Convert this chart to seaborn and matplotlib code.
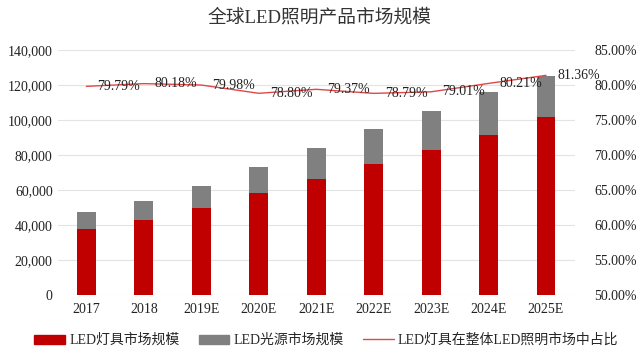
import numpy as np
import pandas as pd
import matplotlib
matplotlib.use('Agg')
import matplotlib.pyplot as plt
import seaborn as sns
from matplotlib.ticker import FuncFormatter
from matplotlib.patches import Patch
from matplotlib.lines import Line2D

years = ['2017', '2018', '2019E', '2020E', '2021E', '2022E', '2023E', '2024E', '2025E']
total_market = [47400, 53700, 62300, 73100, 84000, 94600, 105100, 116000, 125100]
fixture_market = [37800, 43050, 49800, 58450, 66200, 75100, 82800, 91650, 101800]
fixture_share = [79.79, 80.18, 79.98, 78.80, 79.37, 78.79, 79.01, 80.21, 81.36]

RED = '#C00000'
GREY = '#808080'
LINE_RED = '#E04848'

sns.set_theme(style='white')
plt.rcParams['font.family'] = ['Liberation Serif', 'Noto Sans CJK SC']

df = pd.DataFrame({'year': years, 'total': total_market,
                   'fixture': fixture_market, 'share': fixture_share})
df['pos'] = df.index

fig = plt.figure(figsize=(6.4, 3.56), dpi=100)
ax = fig.add_axes([0.09, 0.171, 0.808, 0.689])

# grey = total, red on top of it covers the fixture part
sns.barplot(data=df, x='year', y='total', color=GREY, width=0.33,
            saturation=1, linewidth=0, ax=ax)
sns.barplot(data=df, x='year', y='fixture', color=RED, width=0.33,
            saturation=1, linewidth=0, ax=ax)
ax.set_ylim(0, 140000)
ax.set_yticks(np.arange(0, 140001, 20000))
ax.yaxis.set_major_formatter(FuncFormatter(lambda v, p: f'{int(v):,}'))
ax.set_xlabel('')
ax.set_ylabel('')
ax.grid(axis='y', color='#E3E3E3', lw=0.8)
ax.set_axisbelow(True)
for s in ax.spines.values():
    s.set_visible(False)
ax.tick_params(axis='both', length=0, labelsize=10, colors='#222222')
ax.tick_params(axis='x', pad=6)
ax.set_xlim(-0.5, len(years) - 0.5)

ax2 = ax.twinx()
sns.lineplot(data=df, x='pos', y='share', color=LINE_RED, lw=1, ax=ax2)
ax2.set_ylim(50, 85)
ax2.set_yticks(np.arange(50, 85.01, 5))
ax2.yaxis.set_major_formatter(FuncFormatter(lambda v, p: f'{v:.2f}%'))
ax2.set_ylabel('')
ax2.set_xlabel('')
for s in ax2.spines.values():
    s.set_visible(False)
ax2.tick_params(axis='y', length=0, labelsize=10, colors='#222222', pad=14)
ax2.set_xlim(-0.5, len(years) - 0.5)
for x, v in zip(df['pos'], df['share']):
    ax2.annotate(f'{v:.2f}%', (x, v), xytext=(8, 0), textcoords='offset points',
                 ha='left', va='center', fontsize=10, color='#222222')

fig.suptitle('全球LED照明产品市场规模', x=0.5, y=0.975, fontsize=13.5,
             color='#333333')

handles = [Patch(color=RED), Patch(color=GREY), Line2D([], [], color=LINE_RED, lw=1)]
labels = ['LED灯具市场规模', 'LED光源市场规模', 'LED灯具在整体LED照明市场中占比']
fig.legend(handles, labels, loc='lower center', bbox_to_anchor=(0.51, -0.01),
           ncol=3, frameon=False, fontsize=10, handlelength=2.2,
           handleheight=0.6, columnspacing=1.4, handletextpad=0.3)

fig.savefig('out.png', dpi=100)
